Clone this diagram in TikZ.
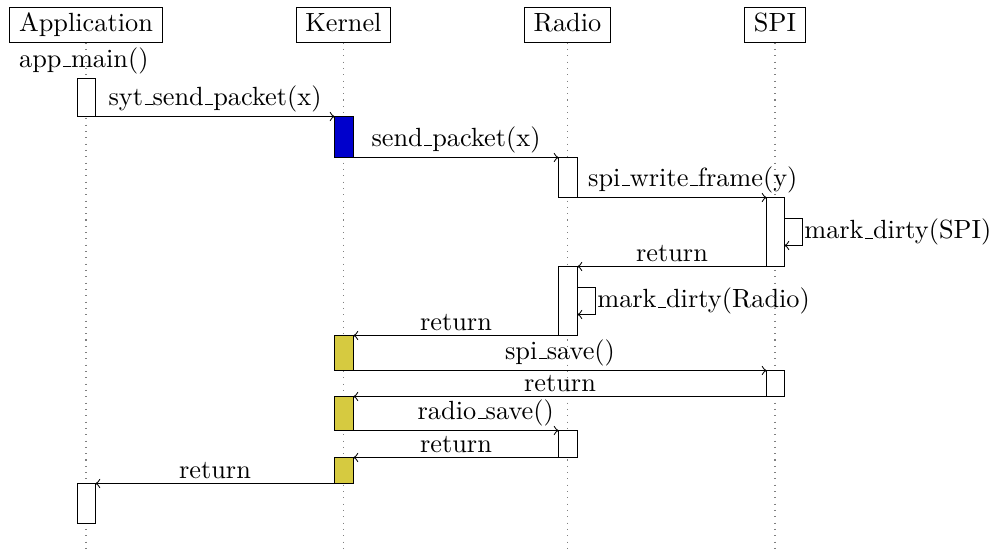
\documentclass[tikz,border=0pt]{standalone}
\usepackage{tikz}
\usetikzlibrary{fit}

\definecolor{kernelblue}{RGB}{0,0,204}
\definecolor{saveyellow}{RGB}{214,202,64}
\newcommand{\us}{\leavevmode\kern.06em\vbox{\hrule width.3em}}

\tikzset{
	thread/.style={draw, inner xsep=3.5pt, inner ysep=2pt, text height=7pt, text depth=2pt},
	lifeline/.style={dotted, gray},
	act/.style={draw, fill=white, inner sep=0pt, outer sep=0pt},
	msg/.style={above, inner sep=1.5pt},
	selfmsg/.style={right, inner sep=0.5pt},
}

\begin{document}
\begin{tikzpicture}[x=0.38pt, y=-0.38pt]
		\useasboundingbox (0,0) rectangle (999,550);
		% threads
		\node[thread] (App) at (86,25) {Application};
		\node[thread] (Ker) at (343.5,25) {Kernel};
		\node[thread] (Rad) at (567.5,25) {Radio};
		\node[thread] (Spi) at (775,25) {SPI};
		\coordinate (Append) at (86,548);
		\coordinate (Kerend) at (343.5,548);
		\coordinate (Radend) at (567.5,548);
		\coordinate (Spiend) at (775,548);
		\draw[lifeline] (App) -- (Append);
		\draw[lifeline] (Ker) -- (Kerend);
		\draw[lifeline] (Rad) -- (Radend);
		\draw[lifeline] (Spi) -- (Spiend);

		% activations
		\node[act, fit={(77.5,78.5) (95.5,116.5)}] (A1) {};
		\node[act, fill=kernelblue, fit={(334.5,116.5) (353.5,157.5)}] (K1) {};
		\node[act, fit={(558.5,157.5) (577.5,197.5)}] (R1) {};
		\node[act, fit={(766.5,197.5) (784.5,266.5)}] (S1) {};
		\node[act, fit={(558.5,266.5) (577.5,335.5)}] (R2) {};
		\node[act, fill=saveyellow, fit={(334.5,335.5) (353.5,370.5)}] (K2) {};
		\node[act, fit={(766.5,370.5) (784.5,396.5)}] (S2) {};
		\node[act, fill=saveyellow, fit={(334.5,396.5) (353.5,430.5)}] (K3) {};
		\node[act, fit={(558.5,430.5) (577.5,457.5)}] (R3) {};
		\node[act, fill=saveyellow, fit={(334.5,457.5) (353.5,483.5)}] (K4) {};
		\node[act, fit={(77.5,483.5) (95.5,523.5)}] (A2) {};

		\node[msg] (main) at ([xshift=-1pt]A1.north) {app\us main()};

		% calls
		\draw[->] (A1.south east) -- (K1.north west) node[msg, midway] (m1) {syt\us send\us packet(x)};
		\draw[->] (K1.south east) -- (R1.north west) node[msg, midway] (m2) {send\us packet(x)};
		\draw[->] (R1.south east) -- (S1.north west) node[msg, pos=0.61] (m3) {spi\us write\us frame(y)};
		\draw[->] ([yshift=-7.98pt]S1.north east) -- ++(18,0) -- ++(0,27) node[selfmsg, midway] (m4) {mark\us dirty(SPI)} -- ++(-18,0);
		\draw[->] (S1.south west) -- (R2.north east) node[msg, midway] (m5) {return};
		\draw[->] ([yshift=-7.98pt]R2.north east) -- ++(18,0) -- ++(0,27) node[selfmsg, midway] (m6) {mark\us dirty(Radio)} -- ++(-18,0);
		\draw[->] (R2.south west) -- (K2.north east) node[msg, midway] (m7) {return};
		\draw[->] (K2.south east) -- (S2.north west) node[msg, midway] (m8) {spi\us save()};
		\draw[->] (S2.south west) -- (K3.north east) node[msg, midway] (m9) {return};
		\draw[->] (K3.south east) -- (R3.north west) node[msg, pos=0.645] (m10) {radio\us save()};
		\draw[->] (R3.south west) -- (K4.north east) node[msg, midway] (m11) {return};
		\draw[->] (K4.south west) -- (A2.north east) node[msg, midway] (m12) {return};
\end{tikzpicture}
\end{document}
